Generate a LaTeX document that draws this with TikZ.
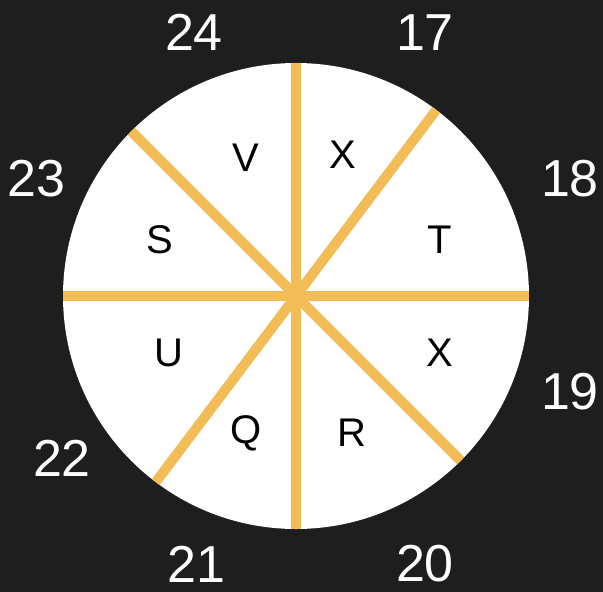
\documentclass[tikz,border=0pt]{standalone}
\usepackage{fontspec}
\setmainfont{Liberation Sans}
\usetikzlibrary{calc}
\definecolor{bg}{RGB}{30,30,30}
\definecolor{spoke}{RGB}{242,188,86}
\begin{document}
\begin{tikzpicture}[x=1pt,y=-1pt,
  spokeline/.style={draw=spoke,line width=10pt,line cap=butt},
  lettertext/.style={font=\fontsize{40}{40}\selectfont,text=black,inner sep=0pt},
  numtext/.style={font=\fontsize{52}{52}\selectfont,text=white,inner sep=0pt}]
\fill[bg] (0,0) rectangle (603,592);
\useasboundingbox (0,0) rectangle (603,592);
\coordinate (c) at (296,296);
\fill[white] (c) circle[radius=233];
% y axis points down, so screen angle a is written as -a
\foreach \n/\a in {e90/-90,e270/90,e0/0,e180/180,e135/-135,e315/45,e53/-53,e233/127}{
  \coordinate (\n) at ($(c)+(\a:233)$);
}
\draw[spokeline] (e90) -- (e270);
\draw[spokeline] (e180) -- (e0);
\draw[spokeline] (e135) -- (e315);
\draw[spokeline] (e53) -- (e233);
\node[lettertext] (lV) at (246,157.5) {V};
\node[lettertext] (lX1) at (342.5,154.5) {X};
\node[lettertext] (lS) at (159.5,240) {S};
\node[lettertext] (lT) at (440,240) {T};
\node[lettertext] (lU) at (168.5,353) {U};
\node[lettertext] (lX2) at (440,353) {X};
\node[lettertext] (lQ) at (246,433) {Q};
\node[lettertext] (lR) at (351.5,432.5) {R};
\node[numtext] (n24) at (194,32.5) {24};
\node[numtext] (n17) at (425,32.5) {17};
\node[numtext] (n23) at (36.5,178.5) {23};
\node[numtext] (n18) at (570,178.5) {18};
\node[numtext] (n19) at (570,392) {19};
\node[numtext] (n22) at (62,458.5) {22};
\node[numtext] (n21) at (196.5,564) {21};
\node[numtext] (n20) at (425,564) {20};
\end{tikzpicture}
\end{document}
